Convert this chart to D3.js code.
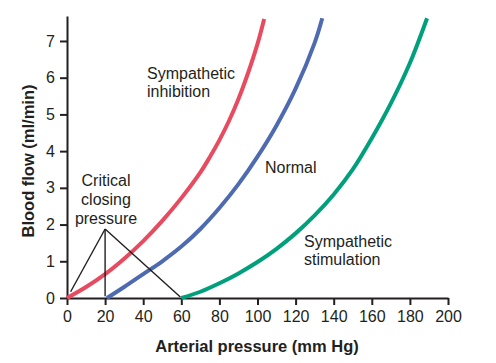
<!DOCTYPE html>
<html>
<head>
<meta charset="utf-8">
<script src="https://cdn.jsdelivr.net/npm/d3@7"></script>
<style>
  body { margin: 0; background: #fff; }
  text { font-family: "Liberation Sans", Arial, sans-serif; fill: #231f20; }
</style>
</head>
<body>
<div id="chart"></div>
<script>
// curve values: [pressure, flow]
var inhibition = [[0,0],[10,0.3],[20,0.65],[30,1.07],[40,1.55],[50,2.1],[60,2.72],[70,3.42],[75,3.84],[80,4.3],[85,4.82],[90,5.42],[95,6.12],[100,6.92],[103.5,7.6]];
var normal = [[21,0],[30,0.3],[40,0.65],[50,1.0],[60,1.4],[70,1.88],[80,2.45],[90,3.1],[100,3.85],[110,4.7],[120,5.7],[130,6.95],[134,7.62]];
var stimulation = [[60,0],[70,0.17],[80,0.4],[90,0.67],[100,0.98],[110,1.34],[120,1.76],[130,2.25],[140,2.82],[150,3.5],[160,4.35],[170,5.3],[180,6.4],[189,7.62]];
var seriesColors = ["#e84a5f", "#4e6bb1", "#00a07c"];

// critical closing pressure pointer lines
var apex = [20, 1.88];
var pointerEnds = [[1.9, 0.17], [20, 0.05], [59.5, 0.03]];

var xTicks = [0, 20, 40, 60, 80, 100, 120, 140, 160, 180, 200];
var yTicks = [0, 1, 2, 3, 4, 5, 6, 7];

var margin = {top: 16, right: 48, bottom: 65, left: 67},
    width = 496 - margin.left - margin.right,
    height = 363 - margin.top - margin.bottom;

var svg = d3.select("#chart")
    .append("svg")
    .attr("width", 496)
    .attr("height", 363)
    .append("g")
    .attr("transform", "translate(" + margin.left + "," + margin.top + ")");

var x = d3.scaleLinear().domain([0, 200]).range([0, width]);
var y = d3.scaleLinear().domain([0, 7.68]).range([height, 0]);

// axes
var xAxis = svg.append("g")
    .attr("transform", "translate(0," + height + ")")
    .call(d3.axisBottom(x).tickValues(xTicks).tickSize(7).tickPadding(6).tickSizeOuter(0));
var yAxis = svg.append("g")
    .call(d3.axisLeft(y).tickValues(yTicks).tickSize(7).tickPadding(5).tickSizeOuter(0));

[xAxis, yAxis].forEach(function(a) {
  a.selectAll("path, line").attr("stroke", "#231f20").attr("stroke-width", 2);
  a.selectAll("text").style("font-size", "16px").attr("fill", "#231f20");
});

// axis titles
svg.append("text")
    .attr("x", 190)
    .attr("y", 336)
    .attr("text-anchor", "middle")
    .style("font-size", "16.5px")
    .style("font-weight", "bold")
    .text("Arterial pressure (mm Hg)");
svg.append("text")
    .attr("transform", "translate(" + (-33) + "," + 145 + ")rotate(-90)")
    .attr("text-anchor", "middle")
    .style("font-size", "16.5px")
    .style("font-weight", "bold")
    .text("Blood flow (ml/min)");

// curves
var line = d3.line()
    .x(d => x(d[0]))
    .y(d => y(d[1]))
    .curve(d3.curveCatmullRom.alpha(0.5));

[inhibition, normal, stimulation].forEach(function(s, i) {
  svg.append("path")
      .datum(s)
      .attr("fill", "none")
      .attr("stroke", seriesColors[i])
      .attr("stroke-width", 4)
      .attr("d", line);
});

// pointer lines
svg.selectAll(".pointer")
    .data(pointerEnds)
    .join("line")
    .attr("class", "pointer")
    .attr("x1", x(apex[0]))
    .attr("y1", y(apex[1]))
    .attr("x2", d => x(d[0]))
    .attr("y2", d => y(d[1]))
    .attr("stroke", "#231f20")
    .attr("stroke-width", 1.4);

// labels
function label(lines, px, py, anchor, lh) {
  var t = svg.append("text")
      .attr("text-anchor", anchor)
      .style("font-size", "16px");
  lines.forEach(function(s, i) {
    t.append("tspan").attr("x", px).attr("y", py + i * lh).text(s);
  });
}
label(["Critical", "closing", "pressure"], 39, 170, "middle", 19);
label(["Sympathetic", "inhibition"], 80, 63, "start", 18);
label(["Normal"], 198, 157, "start", 18);
label(["Sympathetic", "stimulation"], 237, 231, "start", 18);
</script>
</body>
</html>
